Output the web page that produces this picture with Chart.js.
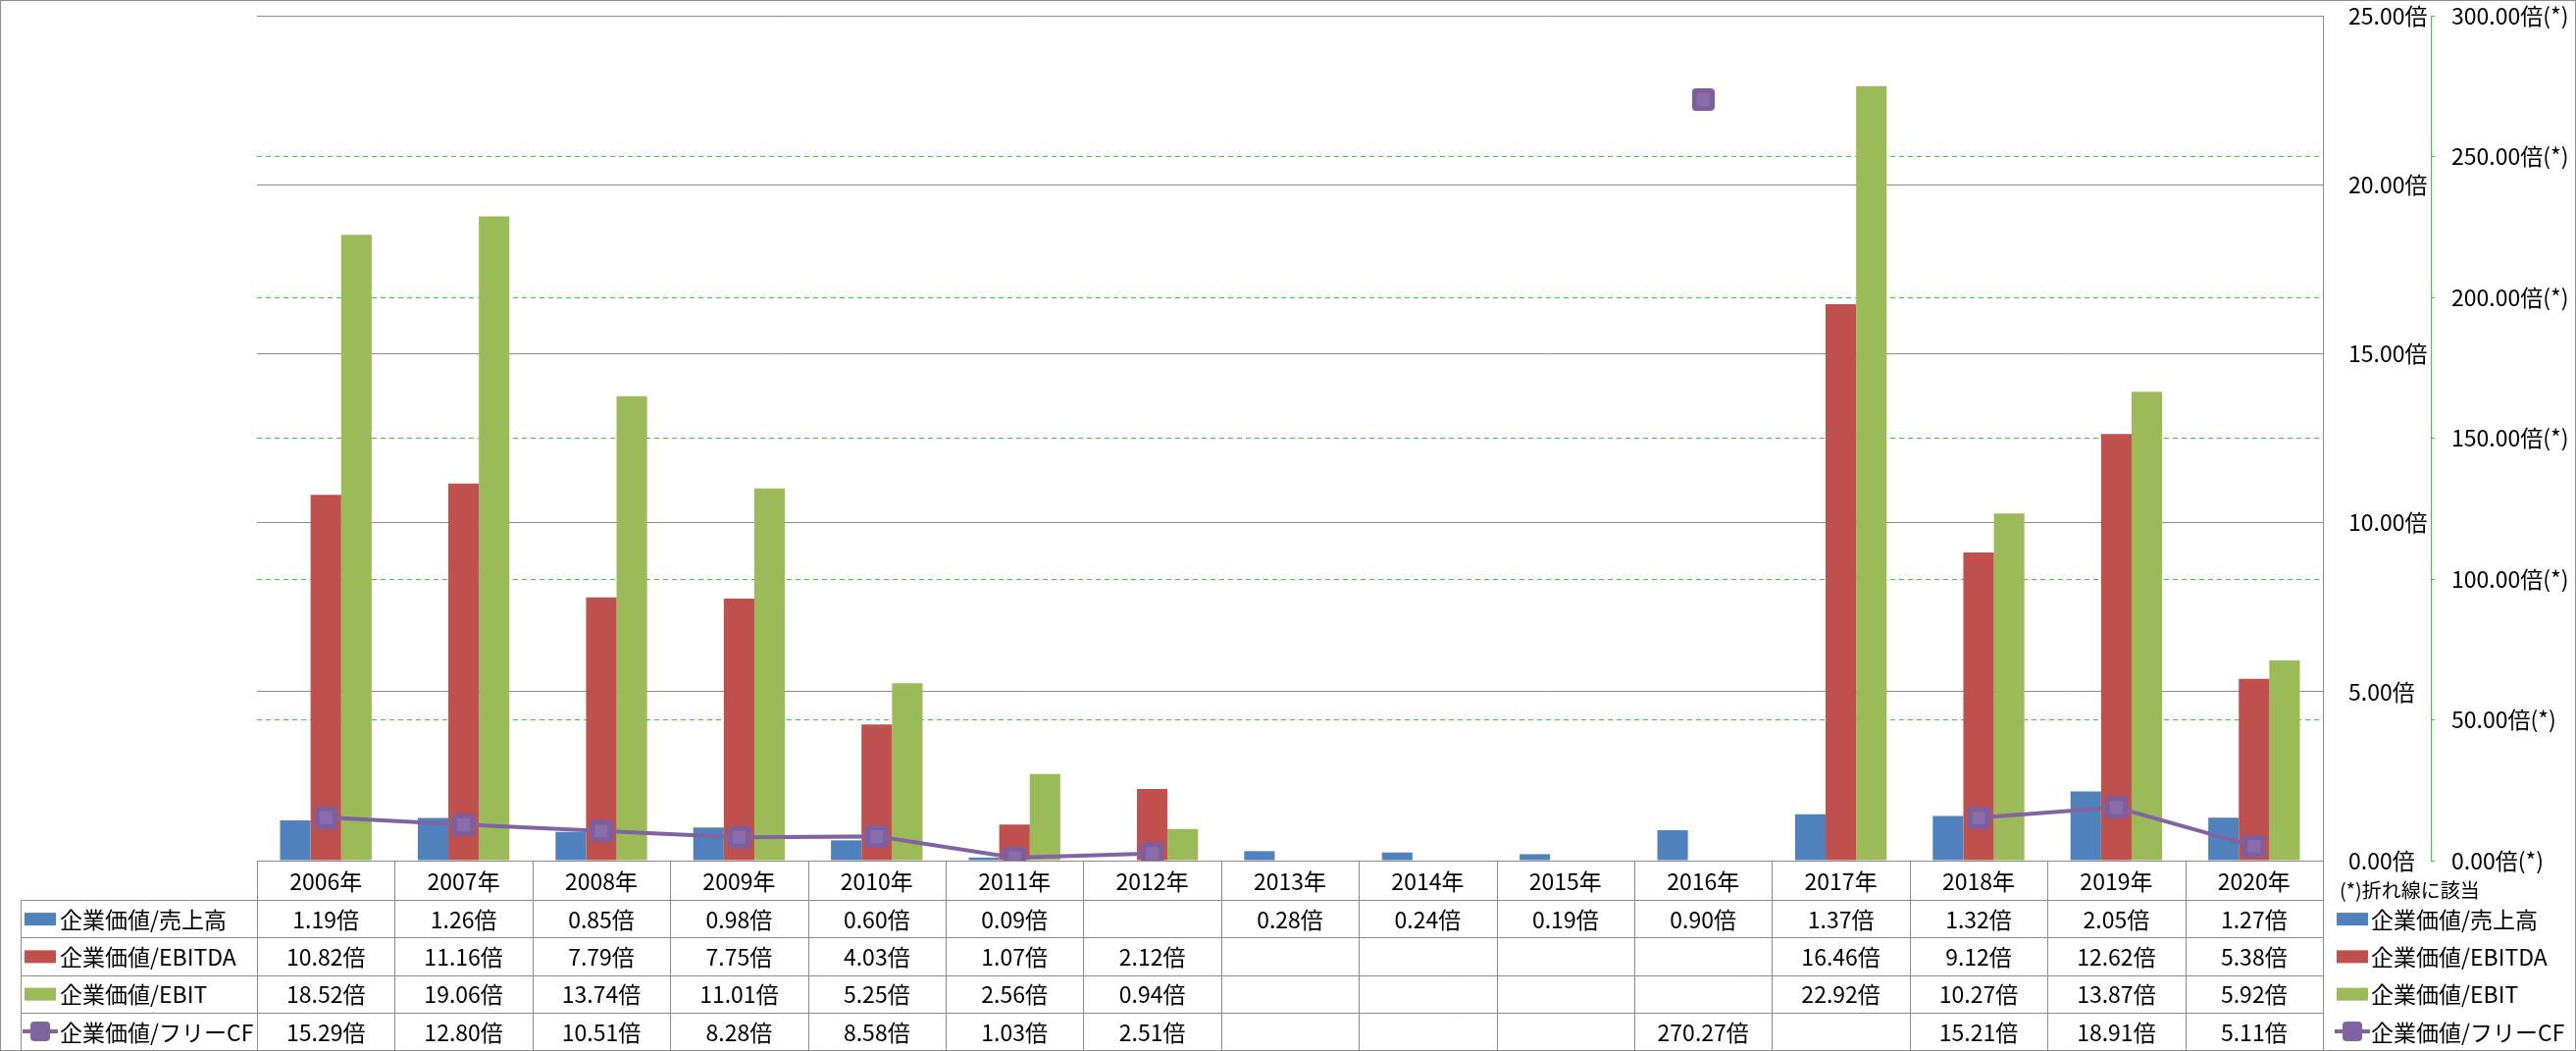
<!DOCTYPE html>
<html lang="ja">
<head>
<meta charset="utf-8">
<title>企業価値倍率の推移</title>
<script src="https://cdn.jsdelivr.net/npm/chart.js@4.4.1/dist/chart.umd.min.js"></script>
<style>
  html, body { margin: 0; padding: 0; background: #fff; }
  #wrap { position: relative; width: 2626px; height: 1071px; }
</style>
</head>
<body>
<div id="wrap"><canvas id="chart"></canvas></div>
<script>
// --- data ---
const years = ['2006年', '2007年', '2008年', '2009年', '2010年', '2011年', '2012年', '2013年',
               '2014年', '2015年', '2016年', '2017年', '2018年', '2019年', '2020年'];
const evSales  = [1.19, 1.26, 0.85, 0.98, 0.60, 0.09, null, 0.28, 0.24, 0.19, 0.90, 1.37, 1.32, 2.05, 1.27];
const evEbitda = [10.82, 11.16, 7.79, 7.75, 4.03, 1.07, 2.12, null, null, null, null, 16.46, 9.12, 12.62, 5.38];
const evEbit   = [18.52, 19.06, 13.74, 11.01, 5.25, 2.56, 0.94, null, null, null, null, 22.92, 10.27, 13.87, 5.92];
const evFcf    = [15.29, 12.80, 10.51, 8.28, 8.58, 1.03, 2.51, null, null, null, 270.27, null, 15.21, 18.91, 5.11];
const seriesNames = ['企業価値/売上高', '企業価値/EBITDA', '企業価値/EBIT', '企業価値/フリーCF'];
const leftAxis = { min: 0, max: 25, step: 5 };
const rightAxis = { min: 0, max: 300, step: 50 };
const footNote = '(*)折れ線に該当';

const COLORS = ['#4F81BD', '#C0504D', '#9BBB59', '#8064A2'];
const FONT = "'Noto Sans CJK JP', 'Noto Sans', sans-serif";
const LINE_GRAY = '#8c8c8c';
const GREEN = '#22dd22';

const fmt = v => (v == null ? '' : v.toFixed(2) + '倍');

/**
 * Rounded square marker like Excel's
 */
function makeMarker(size) {
    const c = document.createElement('canvas');
    c.width = size; c.height = size;
    const g = c.getContext('2d');
    g.fillStyle = '#7d5fa0';
    g.beginPath(); g.roundRect(0, 0, size, size, 4); g.fill();
    g.fillStyle = '#8a6cab';
    g.fillRect(5, 5, size - 10, size - 10);
    return c;
}
const marker = makeMarker(23);

function hline(ctx, x1, x2, y) {
    y = Math.round(y) + 0.5;
    ctx.beginPath(); ctx.moveTo(x1, y); ctx.lineTo(x2, y); ctx.stroke();
}
function vline(ctx, x, y1, y2) {
    x = Math.round(x) + 0.5;
    ctx.beginPath(); ctx.moveTo(x, y1); ctx.lineTo(x, y2); ctx.stroke();
}

function drawKey(ctx, i, x, y) {
    if (i < 3) {
        ctx.fillStyle = COLORS[i];
        ctx.fillRect(x, y - 6, 32, 13);
    } else {
        ctx.strokeStyle = COLORS[3];
        ctx.lineWidth = 4;
        ctx.beginPath(); ctx.moveTo(x - 2, y); ctx.lineTo(x + 34, y); ctx.stroke();
        ctx.fillStyle = COLORS[3];
        ctx.beginPath(); ctx.roundRect(x + 6, y - 10, 20, 20, 4); ctx.fill();
    }
}

// keep the plot area where the reference has it (no extra room for edge labels)
function fitAxis(width) {
    return s => {
        s.width = width;
        s.paddingTop = 0;
        s.paddingBottom = 0;
    };
}

/**
 * Data table under the plot + legend on the right
 */
const tablePlugin = {
    id: 'dataTable',
    afterDraw(chart) {
        const { ctx, chartArea: area, scales: { x } } = chart;
        const half = (x.getPixelForValue(1) - x.getPixelForValue(0)) / 2;
        const rows = [evSales, evEbitda, evEbit, evFcf];
        const labelLeft = 21;
        const headerBottom = area.bottom + 40;
        const rowH = (1070 - headerBottom) / rows.length;

        ctx.save();
        ctx.strokeStyle = LINE_GRAY;
        ctx.lineWidth = 1;
        hline(ctx, area.left, area.right, area.bottom);
        for (let r = 0; r <= rows.length; r++) {
            hline(ctx, labelLeft, area.right, headerBottom + r * rowH);
        }
        years.forEach((_, i) => vline(ctx, x.getPixelForValue(i) - half, area.bottom, 1070));
        vline(ctx, area.right, area.bottom, 1070);
        vline(ctx, labelLeft, headerBottom, 1070);

        // outer frame
        ctx.strokeRect(0.5, 0.5, chart.width - 1, chart.height - 1);

        ctx.fillStyle = '#000';
        ctx.textAlign = 'center';
        ctx.textBaseline = 'middle';
        ctx.font = '23px ' + FONT;
        years.forEach((y, i) => {
            const cx = x.getPixelForValue(i);
            ctx.fillText(y, cx, (area.bottom + headerBottom) / 2 + 1);
            rows.forEach((vals, r) => {
                ctx.fillText(fmt(vals[i]), cx, headerBottom + (r + 0.5) * rowH + 1);
            });
        });

        // row labels
        ctx.textAlign = 'left';
        seriesNames.forEach((name, r) => {
            const cy = headerBottom + (r + 0.5) * rowH;
            drawKey(ctx, r, 25, cy);
            ctx.fillStyle = '#000';
            ctx.font = '23px ' + FONT;
            ctx.fillText(name, 61, cy + 1);
        });

        // right legend
        seriesNames.forEach((name, r) => {
            const cy = headerBottom + (r + 0.5) * rowH;
            drawKey(ctx, r, 2382, cy);
            ctx.fillStyle = '#000';
            ctx.font = '23px ' + FONT;
            ctx.fillText(name, 2417, cy + 1);
        });
        ctx.font = '20px ' + FONT;
        ctx.fillText(footNote, 2385, 907);
        ctx.restore();
    }
};

const ctx = document.getElementById('chart');
new Chart(ctx, {
    data: {
        labels: years,
        datasets: [
            { type: 'line', label: seriesNames[3], data: evFcf, yAxisID: 'y2', order: 0,
              borderColor: COLORS[3], borderWidth: 4, spanGaps: false, tension: 0,
              pointStyle: marker, pointRadius: 12, pointHoverRadius: 12 },
            { type: 'bar', label: seriesNames[0], data: evSales, yAxisID: 'y', order: 1, backgroundColor: COLORS[0] },
            { type: 'bar', label: seriesNames[1], data: evEbitda, yAxisID: 'y', order: 1, backgroundColor: COLORS[1] },
            { type: 'bar', label: seriesNames[2], data: evEbit, yAxisID: 'y', order: 1, backgroundColor: COLORS[2] }
        ]
    },
    options: {
        responsive: true,
        maintainAspectRatio: false,
        animation: false,
        layout: { padding: { left: 262, top: 16, right: 0, bottom: 194 } },
        datasets: { bar: { categoryPercentage: 0.665, barPercentage: 1 } },
        plugins: { legend: { display: false }, tooltip: { enabled: false } },
        scales: {
            x: { type: 'category', display: false, offset: true },
            y: {
                position: 'right', weight: 0,
                min: leftAxis.min, max: leftAxis.max,
                grid: { color: LINE_GRAY, lineWidth: 1, drawTicks: false },
                border: { color: LINE_GRAY, width: 1 },
                ticks: { stepSize: leftAxis.step, padding: 26, color: '#000',
                         font: { family: FONT, size: 23 }, callback: v => v.toFixed(2) + '倍' },
                afterFit: fitAxis(110)
            },
            y2: {
                position: 'right', weight: 1,
                min: rightAxis.min, max: rightAxis.max,
                grid: {
                    color: c => (c.tick && (c.tick.value === rightAxis.min || c.tick.value === rightAxis.max)) ? 'rgba(0,0,0,0)' : GREEN,
                    tickColor: GREEN, tickLength: 4, lineWidth: 1, tickBorderDash: []
                },
                border: { color: GREEN, width: 1, dash: [5, 4] },
                ticks: { stepSize: rightAxis.step, padding: 17, color: '#000',
                         font: { family: FONT, size: 23 }, callback: v => v.toFixed(2) + '倍(*)' },
                afterFit: fitAxis(148)
            }
        }
    },
    plugins: [tablePlugin]
});
</script>
</body>
</html>
